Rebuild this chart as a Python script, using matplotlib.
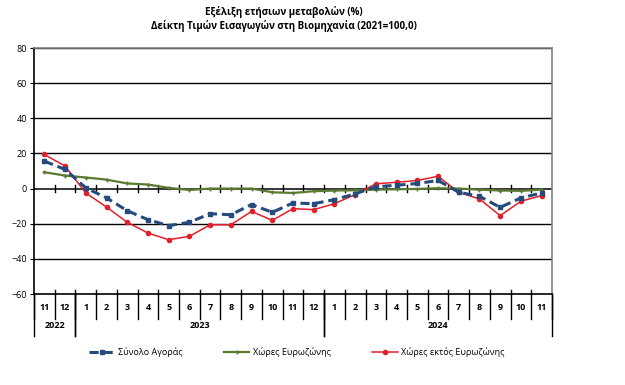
import matplotlib
matplotlib.use("Agg")
import matplotlib.pyplot as plt
from matplotlib.lines import Line2D

plt.rcParams['font.family'] = ['Open Sans', 'DejaVu Sans']

months = ['11', '12', '1', '2', '3', '4', '5', '6', '7', '8', '9', '10', '11', '12',
          '1', '2', '3', '4', '5', '6', '7', '8', '9', '10', '11']
years = ['2022', '2023', '2024']
year_spans = [(0, 2), (2, 14), (14, 25)]

total = [15.6, 10.9, 0.4, -5.3, -12.6, -17.7, -21.1, -19.2, -14.3, -14.9, -9.1, -13.5,
         -8.2, -8.6, -6.3, -3.0, 1.0, 1.9, 2.9, 4.6, -2.1, -4.4, -10.7, -5.3, -2.5]
euro = [9.3, 7.4, 6.3, 5.1, 2.9, 2.3, 0.4, -0.8, 0.0, 0.0, 0.0, -2.1,
        -2.5, -1.5, -1.1, -1.0, -0.6, -0.4, -0.2, 0.2, 0.0, -0.6, -1.1, -1.3, -0.6]
non_euro = [19.4, 12.8, -2.5, -10.5, -19.2, -25.3, -29.1, -27.2, -20.6, -20.6, -13.0, -18.1,
            -11.4, -12.0, -8.6, -3.4, 2.7, 3.6, 4.6, 7.0, -2.1, -5.9, -15.4, -7.2, -4.0]

labels = ['Σύνολο Αγοράς', 'Χώρες Ευρωζώνης', 'Χώρες εκτός Ευρωζώνης']

fig = plt.figure(figsize=(6.25, 3.85), dpi=100)
ax = fig.add_axes([34/625, 1-294/385, (552-34)/625, (294-48)/385])

n = len(months)
x = [i + 0.5 for i in range(n)]

for yv in range(-40, 81, 20):
    if yv != 0:
        ax.axhline(yv, color='black', lw=1.0, zorder=1)
ax.axhline(0, color='black', lw=1.1, zorder=1)
for i in range(1, n):
    ax.plot([i, i], [-2.2, 2.2], color='black', lw=1, zorder=1)
    ax.plot([i, i], [-60, -57.8], color='black', lw=1, zorder=1, clip_on=False)

ax.plot(x, euro, color='#5a7a32', lw=1.6, marker='+', ms=3, mew=1, zorder=3)
ax.plot(x, non_euro, color='#e0202a', lw=1.1, marker='o', ms=3, zorder=4)
ax.plot(x, total, color='#254a7c', lw=2.2, ls=(0, (3, 1.6)), marker='s', ms=3.5, zorder=5)

ax.set_xlim(0, n)
ax.set_ylim(-60, 80)
ax.set_yticks(range(-60, 81, 20))
ax.set_xticks([])
ax.tick_params(axis='y', length=3, labelsize=6.5, pad=2, color='black')
for s in ['top', 'right']:
    ax.spines[s].set_color('#808080')
    ax.spines[s].set_linewidth(1.2)
ax.spines['left'].set_linewidth(1.2)
ax.spines['bottom'].set_linewidth(1.2)

# category table under the axis
tr = ax.get_xaxis_transform()
px = 1 / (294 - 48)
for i, m in enumerate(months):
    ax.text(i + 0.5, -14 * px, m, transform=tr, ha='center', va='center',
            fontsize=6.5, fontweight='bold')
for i in range(0, n + 1):
    ax.add_line(Line2D([i, i], [0, -25 * px], transform=tr, color='black', lw=1, clip_on=False))
for (a, b), yr in zip(year_spans, years):
    ax.text((a + b) / 2, -32 * px, yr, transform=tr, ha='center', va='center',
            fontsize=6.5, fontweight='bold')
    for e in (a, b):
        ax.add_line(Line2D([e, e], [0, -42 * px], transform=tr, color='black', lw=1, clip_on=False))

fig.text(0.454, 1 - 12/385, 'Εξέλιξη ετήσιων μεταβολών (%)', ha='center', va='center',
         fontsize=7, fontweight='bold')
fig.text(0.454, 1 - 26/385, 'Δείκτη Τιμών Εισαγωγών στη Βιομηχανία (2021=100,0)', ha='center', va='center',
         fontsize=7, fontweight='bold')

handles = [
    Line2D([], [], color='#254a7c', lw=2.2, ls=(0, (3, 1.6)), marker='s', ms=3.5),
    Line2D([], [], color='#5a7a32', lw=1.6, marker='+', ms=3, mew=1),
    Line2D([], [], color='#e0202a', lw=1.1, marker='o', ms=3),
]
fig.legend(handles, labels, loc='center', bbox_to_anchor=(0.475, 1 - 352/385), ncol=3,
           frameon=False, fontsize=6.5, handlelength=2.8, columnspacing=4.6, handletextpad=0.4)

fig.savefig('out.png', dpi=100)
